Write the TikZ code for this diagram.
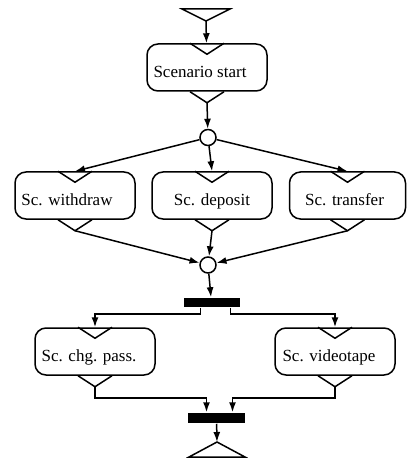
\documentclass[tikz,border=0pt]{standalone}
\usepackage{fontspec}
\setmainfont{Liberation Serif}
\usetikzlibrary{arrows.meta}

\begin{document}
\begin{tikzpicture}[x=1pt, y=-1pt, line width=1.5pt, font=\fontsize{17}{20}\selectfont]

    % let's define some key values
    \def\nw{17}
    \def\nd{11}
    \coordinate (init) at (206,21);
    \coordinate (final) at (217,442);

    % Styles
    \tikzstyle{scen}=[draw, rounded corners=11pt, minimum width=120pt, minimum height=47pt, inner sep=0pt]
    \tikzstyle{every label}=[text height=23pt, text depth=3pt]
    \tikzstyle{branch}=[draw, circle, minimum size=16pt, inner sep=0pt]
    \tikzstyle{bar}=[fill, minimum width=56pt, minimum height=9pt, inner sep=0pt]
    \tikzstyle{flow}=[-{Latex[length=10pt,width=7pt]}]

    \useasboundingbox (0,0) rectangle (406,462);

    % scenarios
    \node[scen, label={[xshift=-7pt]center:Scenario start}] (start) at (207,67.5) {};
    \node[scen, label={[xshift=-8pt]center:Sc. withdraw}] (withdraw) at (75,195.5) {};
    \node[scen, label={center:Sc. deposit}] (deposit) at (212,195.5) {};
    \node[scen, minimum width=116pt, label={[xshift=-3pt]center:Sc. transfer}] (transfer) at (347.5,195.5) {};
    \node[scen, label={[xshift=-6pt]center:Sc. chg. pass.}] (chgpass) at (95,351.5) {};
    \node[scen, label={[xshift=-6pt]center:Sc. videotape}] (video) at (335,351.5) {};

    % branches and bars
    \node[branch] (choice) at (208,137.5) {};
    \node[branch] (merge) at (208,265) {};
    \node[bar] (fork) at (211.5,302.5) {};
    \node[bar, minimum width=57pt, minimum height=10pt] (join) at (216.5,418) {};

    % start and end
    \draw (init) -- ++(-24,-12) -- ++(48,0) -- cycle;
    \draw (final) -- ++(-28,15) -- ++(56,0) -- cycle;

    % notches
    \foreach \s in {start, withdraw, deposit, transfer, chgpass, video} {
        \draw ([xshift=-\nw pt]\s.north) -- ([yshift=-\nd pt]\s.north) -- ([xshift=\nw pt]\s.north);
        \draw ([xshift=-\nw pt]\s.south) -- ([yshift=-\nd pt]\s.south) -- ([xshift=\nw pt]\s.south);
        \coordinate (\s-out) at ([yshift=-\nd pt]\s.south);
    }

    % flows
    \draw[flow] (init) -- (start);
    \draw[flow] (start-out) -- (choice);
    \draw[flow] (choice) -- (withdraw.north);
    \draw[flow] (choice) -- (deposit.north);
    \draw[flow] (choice) -- (transfer.north);
    \draw[flow] (withdraw-out) -- (merge);
    \draw[flow] (deposit-out) -- (merge);
    \draw[flow] (transfer-out) -- (merge);
    \draw[flow] (merge) -- (fork);
    \draw[flow] ([xshift=-11pt]fork.south) -- ++(0,6) -| (chgpass.north);
    \draw[flow] ([xshift=19pt]fork.south) -- ++(0,6) -| (video.north);
    \draw[flow] (chgpass-out) -- ++(0,11) -| ([xshift=-10pt]join.north);
    \draw[flow] (video-out) -- ++(0,11) -| ([xshift=16pt]join.north);
    \draw[flow] (join) -- (final);

\end{tikzpicture}
\end{document}
